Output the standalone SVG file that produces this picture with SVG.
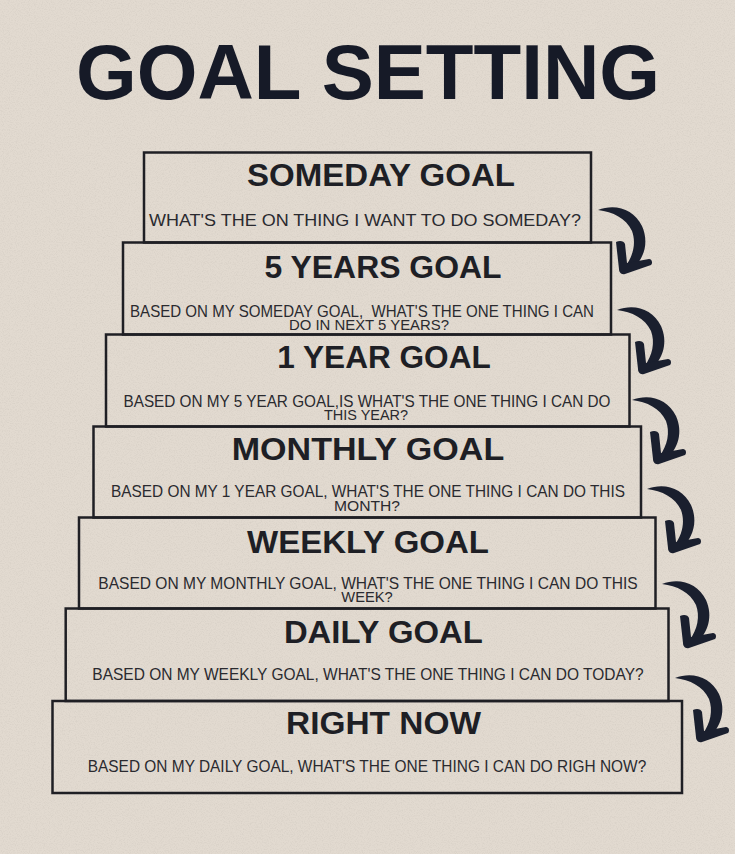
<svg xmlns="http://www.w3.org/2000/svg" xmlns:xlink="http://www.w3.org/1999/xlink" width="735" height="854" viewBox="0 0 735 854">
  <defs>
    <style>
      .bg { fill: #e2dad0; }
      .box { fill: none; stroke: #1f1f24; stroke-width: 2.5; }
      .title { font-family: "Liberation Sans", Arial, sans-serif; font-weight: 700; font-size: 78px; fill: #161a27; text-anchor: middle; }
      .head { font-family: "Liberation Sans", Arial, sans-serif; font-weight: 700; font-size: 31px; fill: #1e1f25; text-anchor: middle; }
      .desc { font-family: "Liberation Sans", Arial, sans-serif; font-size: 17px; fill: #2a2a2f; text-anchor: middle; }
      .desc2 { font-family: "Liberation Sans", Arial, sans-serif; font-size: 14.5px; fill: #2a2a2f; text-anchor: middle; }
      .arrow { fill: #1a1f2e; }
    </style>
    <filter id="grain" x="0" y="0" width="100%" height="100%">
      <feTurbulence type="fractalNoise" baseFrequency="0.85" numOctaves="3" seed="7" result="n"/>
      <feColorMatrix in="n" type="matrix" values="0 0 0 0 0.40  0 0 0 0 0.37  0 0 0 0 0.33  0.4 0 0 0 -0.17"/>
    </filter>
    <g id="arr" class="arrow">
      <path d="M0,1 C17,-6 36,0 44,17 C51,33 47,49 33,62 L27,58 C36,46 38,33 34,22 C28,9 15,3 0,1 Z"/>
      <path d="M18,33 C22,31 26,32 27,35 L29,54 L51,50 C54,50 55,54 53,56 L27,65 C23,66 21,63 21,60 Z"/>
    </g>
  </defs>

  <rect class="bg" x="0" y="0" width="735" height="854"/>
  <rect x="0" y="0" width="735" height="854" filter="url(#grain)"/>

  <text class="title" x="368" y="99" textLength="584" lengthAdjust="spacingAndGlyphs">GOAL SETTING</text>

  <g id="node-someday">
    <rect class="box" x="144" y="152.5" width="447" height="90"/>
    <text class="head" x="381" y="186" textLength="268" lengthAdjust="spacingAndGlyphs">SOMEDAY GOAL</text>
    <text class="desc" x="365" y="226" textLength="432" lengthAdjust="spacingAndGlyphs">WHAT'S THE ON THING I WANT TO DO SOMEDAY?</text>
  </g>

  <g id="node-5years">
    <rect class="box" x="123" y="242.5" width="488" height="92"/>
    <text class="head" x="383" y="277.5" textLength="237" lengthAdjust="spacingAndGlyphs">5 YEARS GOAL</text>
    <text class="desc" x="362" y="317" textLength="464" lengthAdjust="spacingAndGlyphs" xml:space="preserve">BASED ON MY SOMEDAY GOAL,  WHAT'S THE ONE THING I CAN</text>
    <text class="desc2" x="369" y="329.5" textLength="160" lengthAdjust="spacingAndGlyphs">DO IN NEXT 5 YEARS?</text>
  </g>

  <g id="node-1year">
    <rect class="box" x="106" y="334.5" width="523.5" height="92"/>
    <text class="head" x="384" y="368" textLength="213.5" lengthAdjust="spacingAndGlyphs">1 YEAR GOAL</text>
    <text class="desc" x="367" y="406.5" textLength="487" lengthAdjust="spacingAndGlyphs">BASED ON MY 5 YEAR GOAL,IS WHAT'S THE ONE THING I CAN DO</text>
    <text class="desc2" x="366" y="420" textLength="84" lengthAdjust="spacingAndGlyphs">THIS YEAR?</text>
  </g>

  <g id="node-monthly">
    <rect class="box" x="93.5" y="426.5" width="547.5" height="91"/>
    <text class="head" x="368" y="460" textLength="272.5" lengthAdjust="spacingAndGlyphs">MONTHLY GOAL</text>
    <text class="desc" x="368" y="497" textLength="514" lengthAdjust="spacingAndGlyphs">BASED ON MY 1 YEAR GOAL, WHAT'S THE ONE THING I CAN DO THIS</text>
    <text class="desc2" x="367" y="511" textLength="66" lengthAdjust="spacingAndGlyphs">MONTH?</text>
  </g>

  <g id="node-weekly">
    <rect class="box" x="79" y="517.5" width="576.5" height="91"/>
    <text class="head" x="368" y="553" textLength="242" lengthAdjust="spacingAndGlyphs">WEEKLY GOAL</text>
    <text class="desc" x="368" y="588.5" textLength="539.5" lengthAdjust="spacingAndGlyphs">BASED ON MY MONTHLY GOAL, WHAT'S THE ONE THING I CAN DO THIS</text>
    <text class="desc2" x="367" y="602" textLength="51.5" lengthAdjust="spacingAndGlyphs">WEEK?</text>
  </g>

  <g id="node-daily">
    <rect class="box" x="65.7" y="608.5" width="602.8" height="92.5"/>
    <text class="head" x="383.4" y="643" textLength="199" lengthAdjust="spacingAndGlyphs">DAILY GOAL</text>
    <text class="desc" x="368" y="680" textLength="551.4" lengthAdjust="spacingAndGlyphs">BASED ON MY WEEKLY GOAL, WHAT'S THE ONE THING I CAN DO TODAY?</text>
  </g>

  <g id="node-rightnow">
    <rect class="box" x="52.5" y="701" width="629.5" height="92"/>
    <text class="head" x="383.5" y="734" textLength="195" lengthAdjust="spacingAndGlyphs">RIGHT NOW</text>
    <text class="desc" x="367" y="771.5" textLength="558.5" lengthAdjust="spacingAndGlyphs">BASED ON MY DAILY GOAL, WHAT'S THE ONE THING I CAN DO RIGH NOW?</text>
  </g>

  <g id="connectors">
    <use xlink:href="#arr" href="#arr" transform="translate(598,209)"/>
    <use xlink:href="#arr" href="#arr" transform="translate(617,309)"/>
    <use xlink:href="#arr" href="#arr" transform="translate(632,399)"/>
    <use xlink:href="#arr" href="#arr" transform="translate(647,488)"/>
    <use xlink:href="#arr" href="#arr" transform="translate(662,583)"/>
    <use xlink:href="#arr" href="#arr" transform="translate(675,677)"/>
  </g>
</svg>
